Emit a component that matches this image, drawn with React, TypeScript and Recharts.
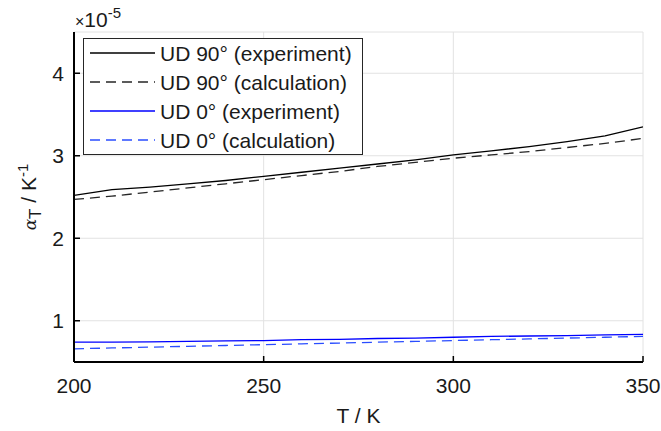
import React from "react";
import { LineChart, Line, XAxis, YAxis, CartesianGrid, Legend, Label } from "recharts";

const temperatures = [200, 210, 220, 230, 240, 250, 260, 270, 280, 290, 300, 310, 320, 330, 340, 350];
const ud90Experiment = [2.52, 2.59, 2.62, 2.66, 2.7, 2.75, 2.8, 2.85, 2.9, 2.95, 3.01, 3.06, 3.11, 3.17, 3.24, 3.35];
const ud90Calculation = [2.47, 2.51, 2.56, 2.61, 2.66, 2.71, 2.76, 2.81, 2.87, 2.92, 2.97, 3.01, 3.05, 3.1, 3.15, 3.21];
const ud0Experiment = [0.74, 0.74, 0.745, 0.75, 0.755, 0.76, 0.77, 0.775, 0.785, 0.79, 0.8, 0.81, 0.815, 0.82, 0.83, 0.835];
const ud0Calculation = [0.66, 0.67, 0.68, 0.69, 0.7, 0.71, 0.72, 0.73, 0.74, 0.75, 0.76, 0.77, 0.78, 0.79, 0.8, 0.81];

const xTicks = [200, 250, 300, 350];
const yTicks = [1, 2, 3, 4];
const seriesNames = ["UD 90° (experiment)", "UD 90° (calculation)", "UD 0° (experiment)", "UD 0° (calculation)"];
const seriesKeys = ["e90", "c90", "e0", "c0"];
const seriesColors = ["#000000", "#262626", "#0000ff", "#2a4dff"];
const seriesDash = ["", "10 6", "", "10 6"];

const data = temperatures.map((t, i) => ({
  T: t,
  e90: ud90Experiment[i],
  c90: ud90Calculation[i],
  e0: ud0Experiment[i],
  c0: ud0Calculation[i],
}));

const FONT = '"Liberation Sans", Arial, Helvetica, sans-serif';
const FS = 21;
const TXT = "#1a1a1a";

const BottomTick = (props: any) => {
  const { x, y, payload } = props;
  return (
    <g>
      <line x1={x} y1={y} x2={x} y2={y - 6} stroke="#000" strokeWidth={1.5} />
      <text x={x} y={y + 31} textAnchor="middle" fontSize={FS} fontFamily={FONT} fill={TXT}>
        {payload.value}
      </text>
    </g>
  );
};

const TopTick = (props: any) => {
  const { x, y } = props;
  return <line x1={x} y1={y} x2={x} y2={y + 6} stroke="#000" strokeWidth={1.5} />;
};

const LeftTick = (props: any) => {
  const { x, y, payload } = props;
  return (
    <g>
      <line x1={x} y1={y} x2={x + 6} y2={y} stroke="#000" strokeWidth={1.5} />
      <text x={x - 10} y={y + 7.5} textAnchor="end" fontSize={FS} fontFamily={FONT} fill={TXT}>
        {payload.value}
      </text>
    </g>
  );
};

const RightTick = (props: any) => {
  const { x, y } = props;
  return <line x1={x} y1={y} x2={x - 6} y2={y} stroke="#000" strokeWidth={1.5} />;
};

const YLabelContent = (props: any) => {
  const vb = props.viewBox || {};
  const cy = (vb.y ?? 32) + (vb.height ?? 330) / 2;
  const lx = 36;
  return (
    <g>
      <text
        transform={`translate(${lx}, ${cy}) rotate(-90)`}
        textAnchor="middle"
        fontSize={FS}
        fontFamily={FONT}
        fill={TXT}
      >
        <tspan fontStyle="italic" fontFamily="'DejaVu Serif', serif" fontSize={17}>α</tspan>
        <tspan fontSize={17} dy={5}>T</tspan>
        <tspan dy={-5}> / K</tspan>
        <tspan fontSize={15} dy={-8}>-1</tspan>
      </text>
      <text x={75} y={27} fontSize={FS} fontFamily={FONT} fill={TXT}>
        <tspan fontSize={16}>×</tspan>
        <tspan>10</tspan>
        <tspan fontSize={15} dy={-9}>-5</tspan>
      </text>
    </g>
  );
};

const XLabelContent = (props: any) => {
  const vb = props.viewBox || {};
  const cx = (vb.x ?? 74) + (vb.width ?? 569) / 2;
  return (
    <text x={cx} y={423} textAnchor="middle" fontSize={FS} fontFamily={FONT} fill={TXT}>
      T / K
    </text>
  );
};

const LegendBox = () => {
  const w = 280;
  const h = 117;
  const rowH = 29;
  return (
    <svg width={w} height={h} style={{ display: "block" }}>
      <rect x={0.5} y={0.5} width={w - 1} height={h - 1} fill="#fff" stroke="#262626" strokeWidth={1} />
      {seriesNames.map((name, i) => {
        const cy = 15 + i * rowH;
        return (
          <g key={name}>
            <line
              x1={7}
              y1={cy}
              x2={72}
              y2={cy}
              stroke={seriesColors[i]}
              strokeWidth={1.5}
              strokeDasharray={seriesDash[i] || undefined}
            />
            <text x={77} y={cy + 7.5} fontSize={FS} fontFamily={FONT} fill={TXT}>
              {name}
            </text>
          </g>
        );
      })}
    </svg>
  );
};

export default function App() {
  return (
    <div style={{ position: "absolute", left: 0, top: 0, width: 661, height: 431, background: "#fff" }}>
      <LineChart width={661} height={431} data={data} margin={{ top: 32, right: 18, bottom: 0, left: 0 }}>
        <CartesianGrid stroke="#e2e2e2" strokeWidth={1} />
        <XAxis
          dataKey="T"
          type="number"
          domain={[200, 350]}
          ticks={xTicks}
          allowDataOverflow
          height={69}
          tickLine={false}
          tickSize={0}
          tickMargin={0}
          axisLine={{ stroke: "#000", strokeWidth: 2 }}
          tick={<BottomTick />}
          interval={0}
        >
          <Label content={<XLabelContent />} />
        </XAxis>
        <XAxis
          xAxisId="top"
          orientation="top"
          dataKey="T"
          type="number"
          domain={[200, 350]}
          ticks={xTicks}
          allowDataOverflow
          height={0}
          tickLine={false}
          tickSize={0}
          tickMargin={0}
          axisLine={{ stroke: "#000", strokeWidth: 2 }}
          tick={<TopTick />}
          interval={0}
        />
        <YAxis
          type="number"
          domain={[0.5, 4.5]}
          ticks={yTicks}
          allowDataOverflow
          width={74}
          tickLine={false}
          tickSize={0}
          tickMargin={0}
          axisLine={{ stroke: "#000", strokeWidth: 2 }}
          tick={<LeftTick />}
          interval={0}
        >
          <Label content={<YLabelContent />} />
        </YAxis>
        <YAxis
          yAxisId="right"
          orientation="right"
          type="number"
          domain={[0.5, 4.5]}
          ticks={yTicks}
          allowDataOverflow
          width={0}
          tickLine={false}
          tickSize={0}
          tickMargin={0}
          axisLine={{ stroke: "#000", strokeWidth: 2 }}
          tick={<RightTick />}
          interval={0}
        />
        {seriesKeys.map((k, i) => (
          <Line
            key={k}
            dataKey={k}
            name={seriesNames[i]}
            type="linear"
            stroke={seriesColors[i]}
            strokeWidth={1.3}
            strokeDasharray={seriesDash[i] || undefined}
            dot={false}
            activeDot={false}
            isAnimationActive={false}
          />
        ))}
        <Legend
          layout="vertical"
          align="center"
          verticalAlign="middle"
          wrapperStyle={{ position: "absolute", left: 83, top: 38, width: 280, height: 117 }}
          content={() => <LegendBox />}
        />
      </LineChart>
    </div>
  );
}
